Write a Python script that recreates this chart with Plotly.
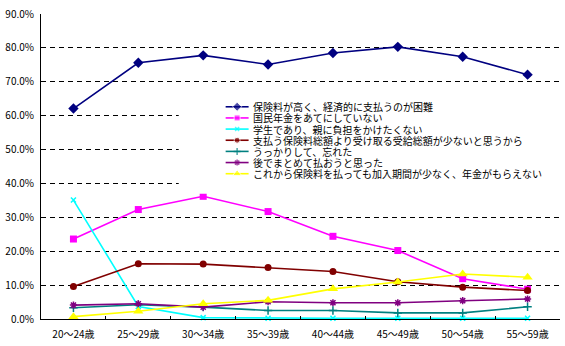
import plotly.graph_objects as go

categories = ["20～24歳", "25～29歳", "30～34歳", "35～39歳", "40～44歳", "45～49歳", "50～54歳", "55～59歳"]

s1_name = "保険料が高く、経済的に支払うのが困難"
s1 = [62.1, 75.6, 77.8, 75.1, 78.5, 80.3, 77.4, 72.1]
s2_name = "国民年金をあてにしていない"
s2 = [23.6, 32.3, 36.2, 31.7, 24.4, 20.2, 11.9, 8.8]
s3_name = "学生であり、親に負担をかけたくない"
s3 = [35.1, 3.7, 0.4, 0.2, 0.2, 0.2, 0.2, 0.2]
s4_name = "支払う保険料総額より受け取る受給総額が少ないと思うから"
s4 = [9.6, 16.3, 16.2, 15.2, 14.0, 11.0, 9.4, 8.4]
s5_name = "うっかりして、忘れた"
s5 = [3.3, 4.2, 3.5, 2.5, 2.5, 1.8, 1.8, 3.6]
s6_name = "後でまとめて払おうと思った"
s6 = [4.1, 4.5, 3.5, 5.1, 4.8, 4.8, 5.4, 5.9]
s7_name = "これから保険料を払っても加入期間が少なく、年金がもらえない"
s7 = [0.7, 2.3, 4.5, 5.5, 8.9, 10.9, 13.3, 12.3]

series = [
    (s1_name, s1, "#000080", "diamond", 8, None),
    (s2_name, s2, "#FF00FF", "square", 7, None),
    (s3_name, s3, "#00FFFF", "x-thin", 5, 1.5),
    (s4_name, s4, "#800000", "circle", 7, None),
    (s5_name, s5, "#008080", "cross-thin", 6, 1.5),
    (s6_name, s6, "#800080", "asterisk", 6, 1.5),
    (s7_name, s7, "#FFFF00", "triangle-up", 9, None),
]

FONT = "Noto Sans CJK JP"
fig = go.Figure()

# legend background (overlay axes in pixel units)
fig.add_trace(go.Scatter(
    x=[178, 560, 560, 178, 178], y=[90, 90, 192, 192, 90],
    xaxis="x2", yaxis="y2", mode="lines", fill="toself",
    fillcolor="white", line=dict(width=0), hoverinfo="skip", showlegend=False))

for name, vals, color, sym, size, lw in series:
    mk = dict(symbol=sym, size=size, color=color)
    if lw:
        mk["line"] = dict(color=color, width=lw)
    fig.add_trace(go.Scatter(
        x=categories, y=vals, name=name, mode="lines+markers",
        line=dict(color=color, width=1.6), marker=mk, showlegend=False,
        cliponaxis=False))

# manual legend
leg_y0 = 104
leg_dy = 11.3
annotations = []
for i, (name, vals, color, sym, size, lw) in enumerate(series):
    py = leg_y0 + i * leg_dy
    mk = dict(symbol=sym, size=[0, size - 1, 0], color=color)
    if lw:
        mk["line"] = dict(color=color, width=lw)
    fig.add_trace(go.Scatter(
        x=[225, 236.5, 248], y=[py, py, py], xaxis="x2", yaxis="y2",
        mode="lines+markers", line=dict(color=color, width=1.6), marker=mk,
        hoverinfo="skip", showlegend=False))
    annotations.append(dict(
        x=250, y=py, xref="x2", yref="y2", text=name, showarrow=False,
        xanchor="left", yanchor="middle",
        font=dict(family=FONT, size=10, color="black")))

fig.update_layout(
    width=565, height=346,
    margin=dict(l=40, r=5, t=10, b=27),
    paper_bgcolor="white", plot_bgcolor="white",
    showlegend=False,
    font=dict(family=FONT, size=10, color="black"),
    annotations=annotations,
    xaxis=dict(
        type="category", showline=True, linecolor="black", linewidth=1,
        ticks="inside", ticklen=3, tickcolor="black", tickson="boundaries",
        showgrid=False, tickfont=dict(family=FONT, size=10, color="black"),
        ticklabelstandoff=6, range=[-0.5, 7.5]),
    yaxis=dict(
        range=[0, 90], dtick=10, tickformat=".1f", ticksuffix="%",
        showline=True, linecolor="black", linewidth=1,
        showgrid=True, gridcolor="black", gridwidth=1, griddash="5px,4px",
        zeroline=False, ticks="", ticklabelstandoff=4,
        tickfont=dict(family=FONT, size=10, color="black")),
    xaxis2=dict(overlaying="x", range=[40, 560], visible=False, anchor="y2"),
    yaxis2=dict(overlaying="y", range=[319, 10], visible=False, anchor="x2"),
)

fig.write_html("out.html")
